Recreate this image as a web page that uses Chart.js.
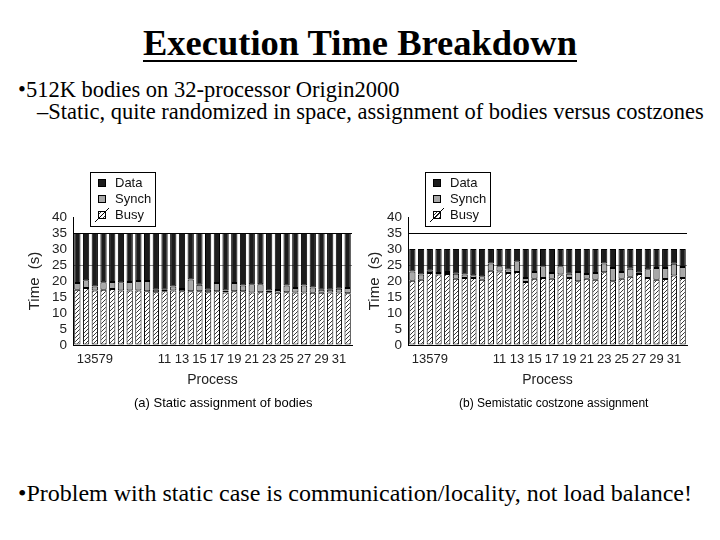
<!DOCTYPE html>
<html>
<head>
<meta charset="utf-8">
<script src="https://cdn.jsdelivr.net/npm/chart.js@4.4.0/dist/chart.umd.min.js"></script>
<style>
  body { margin: 0; background: #fff; }
  #slide { position: relative; width: 720px; height: 540px; overflow: hidden; font-family: "Liberation Serif", "Times New Roman", serif; color: #000; }
  .title { position: absolute; top: 21px; left: 0; width: 720px; text-align: center; font-weight: bold; font-size: 36.5px; text-decoration: underline; text-decoration-thickness: 2px; text-underline-offset: 5px; }
  .line { position: absolute; white-space: nowrap; font-size: 22.5px; }
  .box { position: absolute; width: 340px; height: 232px; }
  .cap { position: absolute; font-family: "Liberation Sans", Arial, sans-serif; font-size: 13px; white-space: nowrap; }
</style>
</head>
<body>
<div id="slide">
  <div class="title">Execution Time Breakdown</div>
  <div class="line" style="left:18px; top:77px;">•512K bodies on 32-processor Origin2000</div>
  <div class="line" style="left:37px; top:99px;">–Static, quite randomized in space, assignment of bodies versus costzones</div>

  <div class="box" style="left:20px; top:165px;"><canvas id="chartA"></canvas></div>
  <div class="box" style="left:360px; top:165px;"><canvas id="chartB"></canvas></div>
  <div class="cap" style="left:134px; top:395px;">(a) Static assignment of bodies</div>
  <div class="cap" style="left:459px; top:396px; font-size:12px;">(b) Semistatic costzone assignment</div>

  <div class="line" style="left:18px; top:480px; font-size:24px;">•Problem with static case is communication/locality, not load balance!</div>
</div>

<script>
/* ── data ── */
const processes = [1,2,3,4,5,6,7,8,9,10,11,12,13,14,15,16,17,18,19,20,21,22,23,24,25,26,27,28,29,30,31,32];
const tickLabels = ['', '', '13579', '', '', '', '', '', '', '', '11', '', '13', '', '15', '', '17', '', '19', '', '21', '', '23', '', '25', '', '27', '', '29', '', '31', ''];
const yTicks = [0, 5, 10, 15, 20, 25, 30, 35, 40];

// (a) static assignment of bodies
const busyA  = [17.3,17.8,17.0,17.3,17.5,17.0,17.0,17.0,16.8,16.5,16.8,17.0,16.8,16.8,16.8,16.5,16.8,16.4,16.8,16.8,16.4,16.5,16.5,16.3,16.5,16.4,16.4,16.3,16.3,16.4,16.4,16.2];
const synchA = [2.1,2.4,1.3,2.3,2.2,2.6,2.7,3.0,3.2,0.8,0.5,1.3,0.7,3.7,2.0,0.8,2.6,0.6,2.6,1.8,2.6,2.5,0.5,0.9,2.1,1.4,2.2,1.7,1.0,0.9,1.2,1.6];
const dataA  = [15.6,14.8,16.7,15.4,15.3,15.4,15.3,15.0,15.0,17.7,17.7,16.7,17.5,14.5,16.2,17.7,15.6,18.0,15.6,16.4,16.0,16.0,18.0,17.8,16.4,17.2,16.4,17.0,17.7,17.7,17.4,17.2];

// (b) semistatic costzone assignment
const busyB  = [20.1,20.4,22.5,22.0,22.2,20.7,20.9,20.9,20.4,23.2,23.0,22.5,22.8,19.7,20.7,20.9,20.7,22.0,20.9,19.9,20.7,20.4,22.7,19.9,20.7,21.3,22.2,20.9,20.4,20.6,21.7,20.9];
const synchB = [2.9,1.6,0.7,0.5,0.6,1.6,1.1,0.9,1.1,2.3,1.6,1.1,3.4,1.2,2.1,3.7,1.8,2.6,1.4,2.9,1.5,2.1,2.8,4.2,2.1,2.5,0.5,2.8,3.7,3.5,3.7,3.5];
const dataB  = [7.0,8.0,6.8,7.5,7.2,7.7,8.0,8.2,8.5,4.5,5.4,6.4,3.8,9.1,7.2,5.4,7.5,5.4,7.7,7.2,7.8,7.5,4.5,5.9,7.2,6.2,7.3,6.3,5.9,5.9,4.6,5.6];

const seriesNames = ['Data', 'Synch', 'Busy'];

/* ── hatch for the Busy segments ── */
function makeHatch() {
    const c = document.createElement('canvas');
    c.width = 4; c.height = 4;
    const g = c.getContext('2d');
    g.fillStyle = '#fff';
    g.fillRect(0, 0, 4, 4);
    g.strokeStyle = '#222';
    g.lineWidth = 0.9;
    g.beginPath();
    g.moveTo(0, 4); g.lineTo(4, 0);
    g.moveTo(-1, 1); g.lineTo(1, -1);
    g.moveTo(3, 5); g.lineTo(5, 3);
    g.stroke();
    return g.createPattern(c, 'repeat');
}
const hatch = makeHatch();
const dataColor = '#1c1c1c';
const synchColor = '#a8a8a8';

const sans = '"Liberation Sans", Arial, sans-serif';

/* ── boxed legend sitting over the top-left of the plot ── */
const boxLegend = {
    id: 'boxLegend',
    afterDraw(chart) {
        const ctx = chart.ctx;
        const a = chart.chartArea;
        const x = a.left + 17, y = a.top - 45, w = 65, h = 54;
        ctx.save();
        ctx.fillStyle = '#fff';
        ctx.fillRect(x, y, w, h);
        ctx.strokeStyle = '#000';
        ctx.lineWidth = 1;
        ctx.strokeRect(x + 0.5, y + 0.5, w, h);
        const fills = [dataColor, synchColor, hatch];
        ctx.font = '13px ' + sans;
        ctx.textBaseline = 'middle';
        seriesNames.forEach((name, i) => {
            const cy = y + 11 + i * 16;
            ctx.fillStyle = fills[i];
            ctx.fillRect(x + 8, cy - 4, 8, 8);
            ctx.strokeStyle = '#000';
            ctx.strokeRect(x + 8.5, cy - 3.5, 7, 7);
            if (i === 2) {
                ctx.beginPath();
                ctx.moveTo(x + 5, cy + 7);
                ctx.lineTo(x + 19, cy - 7);
                ctx.stroke();
            }
            ctx.fillStyle = '#111';
            ctx.fillText(name, x + 25, cy + 0.5);
        });
        ctx.restore();
    }
};

function makeChart(id, busy, synch, data, axisWidth, padRight) {
    const ctx = document.getElementById(id).getContext('2d');
    const seg = (label, values, color) => ({
        label,
        data: values,
        backgroundColor: color,
        borderColor: '#000',
        borderWidth: 1,
        borderSkipped: false,
        barPercentage: 0.72,
        categoryPercentage: 1.0
    });
    return new Chart(ctx, {
        type: 'bar',
        data: {
            labels: processes,
            datasets: [
                seg('Busy', busy, hatch),
                seg('Synch', synch, synchColor),
                seg('Data', data, dataColor)
            ]
        },
        options: {
            responsive: false,
            animation: false,
            devicePixelRatio: 1,
            layout: { padding: { top: 52, right: padRight, left: 0, bottom: 8 } },
            plugins: {
                legend: { display: false },
                tooltip: { enabled: false }
            },
            scales: {
                x: {
                    stacked: true,
                    grid: { display: false, drawTicks: false },
                    border: { display: true, color: '#000', width: 1 },
                    ticks: {
                        autoSkip: false, maxRotation: 0, padding: 7,
                        color: '#222', font: { family: sans, size: 13 },
                        callback: (v, i) => tickLabels[i]
                    },
                    title: { display: true, text: 'Process', color: '#222', font: { family: sans, size: 14 }, padding: { top: 6, bottom: 0 } },
                    afterFit: s => { s.height = 44; }
                },
                y: {
                    stacked: true,
                    min: 0, max: 40,
                    z: 1,
                    afterBuildTicks: s => { s.ticks = yTicks.map(v => ({ value: v })); },
                    grid: {
                        drawTicks: false,
                        lineWidth: 1,
                        color: c => c.tick && c.tick.value === 35 ? '#000'
                                 : c.tick && c.tick.value === 25 ? '#8a8a8a'
                                 : 'rgba(0,0,0,0)'
                    },
                    border: { display: true, color: '#000', width: 1 },
                    ticks: { autoSkip: false, padding: 6, color: '#222', font: { family: sans, size: 13.5 } },
                    title: { display: true, text: 'Time  (s)', color: '#222', font: { family: sans, size: 15 }, padding: { top: 6, bottom: 0 } },
                    afterFit: s => { s.width = axisWidth; }
                }
            }
        },
        plugins: [boxLegend]
    });
}

for (const id of ['chartA', 'chartB']) {
    const cv = document.getElementById(id);
    cv.width = 340; cv.height = 232;
    cv.style.width = '340px'; cv.style.height = '232px';
}
makeChart('chartA', busyA, synchA, dataA, 53, 8);
makeChart('chartB', busyB, synchB, dataB, 48, 13);
</script>
</body>
</html>
